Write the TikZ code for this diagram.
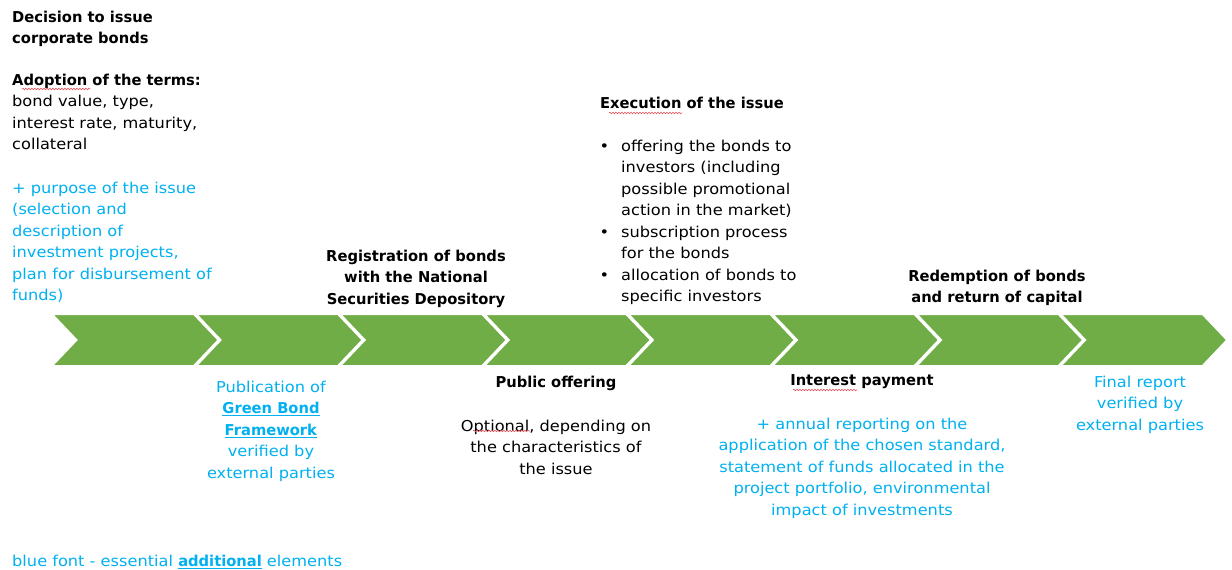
\documentclass[tikz,border=0pt]{standalone}
\usepackage{fontspec}
\setmainfont{DejaVu Sans}[UprightFeatures={FakeStretch=1.08}, BoldFeatures={FakeStretch=0.98}]
\usetikzlibrary{decorations.pathmorphing}
\definecolor{chevgreen}{HTML}{70AD47}
\definecolor{accent}{HTML}{00B0F0}
\definecolor{spellred}{HTML}{E8505B}

% underline drawn as a rule below the word
\newlength\ulnlen
\newcommand\uln[1]{\settowidth\ulnlen{#1}\rlap{\rule[-2.6pt]{\ulnlen}{1.1pt}}#1}

\tikzset{
  txt/.style={inner sep=0pt, font=\fontsize{15}{21.5}\selectfont},
  lefttxt/.style={txt, anchor=north west, align=left},
  midtxt/.style={txt, anchor=north, align=center},
  chevron/.style={fill=chevgreen, draw=white, line width=2.6pt, line join=miter},
  wavy/.style={draw=spellred, line width=0.6pt, decorate,
    decoration={snake, amplitude=0.8pt, segment length=3pt}},
}

\begin{document}
\begin{tikzpicture}[x=1pt,y=-1pt]
\useasboundingbox (0,0) rectangle (1232,570);

% arrow band made of eight chevrons
\foreach \i in {0,...,7}{
  \pgfmathsetmacro\b{51+144.1*\i}
  \path[chevron] (\b,313.7) -- (\b+143,313.7) -- (\b+168,340) -- (\b+143,366.3)
     -- (\b,366.3) -- (\b+25,340) -- cycle;
}

% above the band
\node[lefttxt] (decision) at (12,10.5) {\textbf{Decision to issue}\\\textbf{corporate bonds}};
\node[lefttxt] (terms) at (12,73.5) {\textbf{Adoption of the terms:}\\bond value, type,\\interest rate, maturity,\\collateral};
\node[lefttxt, text=accent] (purpose) at (12,181.5) {+ purpose of the issue\\(selection and\\description of\\investment projects,\\plan for disbursement of\\funds)};
\node[midtxt] (registration) at (416,249.5) {\textbf{Registration of bonds}\\\textbf{with the National}\\\textbf{Securities Depository}};
\node[lefttxt] (execution) at (600,96.5) {\textbf{Execution of the issue}};
\node[lefttxt] (steps) at (621,139.5) {\llap{•\hspace{12pt}}offering the bonds to\\investors (including\\possible promotional\\action in the market)\\\llap{•\hspace{12pt}}subscription process\\for the bonds\\\llap{•\hspace{12pt}}allocation of bonds to\\specific investors};
\node[midtxt] (redemption) at (997,269.5) {\textbf{Redemption of bonds}\\\textbf{and return of capital}};

% below the band
\node[midtxt, text=accent] (framework) at (271,380.5) {Publication of\\\textbf{\uln{Green Bond}}\\\textbf{\uln{Framework}}\\verified by\\external parties};
\node[midtxt] (offering) at (556,375.5) {\textbf{Public offering}};
\node[midtxt] (optional) at (556,419.5) {Optional, depending on\\the characteristics of\\the issue};
\node[midtxt] (interest) at (862,374.5) {\textbf{Interest payment}};
\node[midtxt, text=accent] (reporting) at (862,417.5) {+ annual reporting on the\\application of the chosen standard,\\statement of funds allocated in the\\project portfolio, environmental\\impact of investments};
\node[midtxt, text=accent] (final) at (1140,375.5) {Final report\\verified by\\external parties};

% legend
\node[lefttxt, text=accent] (legend) at (12,554.5) {blue font - essential \textbf{\uln{additional}} elements};

% red wavy proofing marks under single words
\coordinate (w1a) at (22,89);  \coordinate (w1b) at (90,89);
\coordinate (w2a) at (609,113); \coordinate (w2b) at (682,113);
\coordinate (w3a) at (473,431); \coordinate (w3b) at (530,431);
\coordinate (w4a) at (793,390); \coordinate (w4b) at (857,390);
\foreach \w in {1,...,4}{ \path[wavy] (w\w a) -- (w\w b); }
\end{tikzpicture}
\end{document}
